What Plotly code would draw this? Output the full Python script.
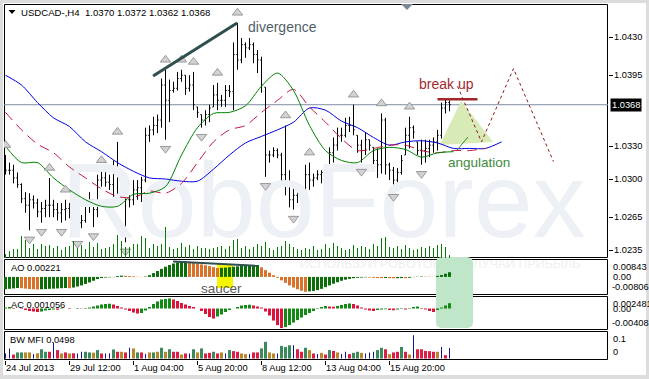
import plotly.graph_objects as go

# ---------------- data ----------------
highs = [1.0322,1.0315,1.0313,1.0306,1.0296,1.0288,1.0287,1.0285,1.0282,1.0279,
         1.0281,1.0301,1.0281,1.0278,1.0278,1.0281,1.0278,1.0274,1.0269,1.0267,
         1.0281,1.0288,1.0281,1.0304,1.0308,1.0308,1.0304,1.0317,1.0334,1.0305,
         1.0293,1.0285,1.0299,1.0299,1.0302,1.0347,1.0349,1.0357,1.0359,1.0392,
         1.0400,1.0391,1.0389,1.0398,1.0400,1.0395,1.0395,1.0398,1.0366,1.0359,
         1.0363,1.0368,1.0386,1.0388,1.0377,1.0386,1.0386,1.0425,1.0443,1.0429,
         1.0425,1.0429,1.0425,1.0418,1.0412,1.0384,1.0326,1.0329,1.0328,1.0324,
         1.0349,1.0308,1.0293,1.0293,1.0290,1.0313,1.0315,1.0305,1.0308,1.0308,
         1.0310,1.0329,1.0338,1.0347,1.0347,1.0356,1.0357,1.0368,1.0340,1.0336,
         1.0343,1.0336,1.0329,1.0328,1.0360,1.0356,1.0315,1.0311,1.0310,1.0322,
         1.0347,1.0357,1.0349,1.0334,1.0336,1.0336,1.0336,1.0338,1.0345,1.0370,
         1.0374,1.0372]
lows = [1.0304,1.0304,1.0296,1.0292,1.0278,1.0269,1.0253,1.0273,1.0265,1.0260,
        1.0265,1.0265,1.0265,1.0262,1.0260,1.0262,1.0264,1.0260,1.0249,1.0255,
        1.0260,1.0269,1.0256,1.0265,1.0293,1.0293,1.0290,1.0283,1.0283,1.0283,
        1.0242,1.0274,1.0276,1.0281,1.0279,1.0297,1.0334,1.0340,1.0342,1.0347,
        1.0336,1.0352,1.0379,1.0381,1.0389,1.0377,1.0380,1.0363,1.0356,1.0347,
        1.0349,1.0352,1.0366,1.0363,1.0366,1.0366,1.0375,1.0363,1.0400,1.0406,
        1.0411,1.0418,1.0406,1.0397,1.0379,1.0302,1.0315,1.0320,1.0319,1.0296,
        1.0285,1.0274,1.0272,1.0278,1.0278,1.0287,1.0290,1.0293,1.0299,1.0296,
        1.0302,1.0305,1.0315,1.0326,1.0334,1.0338,1.0343,1.0340,1.0324,1.0315,
        1.0322,1.0326,1.0308,1.0301,1.0305,1.0304,1.0299,1.0292,1.0296,1.0304,
        1.0322,1.0328,1.0337,1.0322,1.0313,1.0315,1.0320,1.0324,1.0326,1.0337,
        1.0360,1.0362]
closes = [1.0308,1.0308,1.0301,1.0295,1.0282,1.0276,1.0281,1.0278,1.0270,1.0273,
          1.0276,1.0276,1.0272,1.0269,1.0272,1.0273,1.0270,1.0264,1.0260,1.0262,
          1.0276,1.0281,1.0272,1.0299,1.0301,1.0297,1.0295,1.0310,1.0304,1.0290,
          1.0281,1.0281,1.0290,1.0292,1.0299,1.0340,1.0345,1.0349,1.0354,1.0386,
          1.0372,1.0381,1.0383,1.0392,1.0395,1.0383,1.0386,1.0368,1.0361,1.0354,
          1.0359,1.0365,1.0377,1.0372,1.0372,1.0381,1.0380,1.0414,1.0409,1.0423,
          1.0420,1.0423,1.0414,1.0409,1.0386,1.0322,1.0322,1.0326,1.0322,1.0304,
          1.0295,1.0281,1.0285,1.0290,1.0285,1.0304,1.0299,1.0301,1.0304,1.0306,
          1.0308,1.0324,1.0331,1.0340,1.0340,1.0349,1.0349,1.0345,1.0331,1.0326,
          1.0336,1.0331,1.0317,1.0313,1.0354,1.0313,1.0308,1.0299,1.0306,1.0317,
          1.0340,1.0347,1.0343,1.0326,1.0326,1.0328,1.0331,1.0334,1.0340,1.0365,
          1.0370,1.0368]
first_open = 1.0313
last_open = 1.0370

volumes = [400,700,900,900,2200,1800,1000,1400,900,1400,
           1200,1300,1000,1200,800,1100,1200,1700,1000,1300,
           900,1600,1100,1500,900,1000,1100,1400,2300,1700,
           1100,1100,1400,1400,2200,2000,1000,1400,1200,1400,
           3100,1100,900,1000,1500,1100,1300,900,1200,1000,
           1000,900,1000,1100,1200,900,1200,1800,1900,1000,
           1200,900,1100,1400,1200,1600,1000,800,1100,1200,
           1700,1400,1100,900,800,1000,900,1200,800,900,
           1400,1000,1500,1200,1000,800,900,1300,1000,1200,
           1100,900,1400,1200,2000,2100,1100,1000,1200,900,
           1300,1000,800,900,1100,1000,1200,1000,1300,1400,
           1100,300]

# Awesome Oscillator, in units of 0.0001
ao = [-58,-56,-54,-52,-53,-55,-57,-58,-59,-58,
      -57,-56,-55,-54,-53,-52,-53,-50,-45,-40,
      -33,-26,-18,-10,-5,-3,-2,-1,4,6,
      5,4,3,1,-1,2,8,18,28,38,
      48,56,63,68,71,73,70,67,63,59,
      55,51,46,42,43,44,46,48,50,52,
      53,54,55,56,45,32,20,8,-4,-16,
      -28,-40,-50,-58,-65,-70,-68,-66,-62,-56,
      -48,-40,-32,-25,-18,-13,-9,-6,-4,-3,
      -2,-3,-4,-5,-5.5,-5,-6,-6.5,-6,-5.5,
      -6,-4,-1,1,2,1.5,1,0.5,5,9,
      15,22.1]
# Accelerator Oscillator, in units of 0.0001
ac = [2,3,1,0,-1,-3,-5,-6,-7,-6,
      -4,-3,-2,-2.5,-1,0,-1,0,1,0.5,
      1,2,4,6,8,9,9.5,8,5,2,
      -2,-5,-8,-10,-9,-4,3,9,14,18,
      19,20,18,15,11,8,5,3,0,-5,
      -11,-17,-20,-16,-12,-7,-3,0,3,6,
      7,7.5,6,4,2,-6,-14,-24,-33,-39,
      -37,-33,-28,-23,-18,-13,-9,-5,-1,3,
      5,4,3.5,5,7,9,10,9,6,2,
      -2,-4,-5,-3,-2,-1.5,-3,-3.5,-2,-1,
      -2,1,3,4,1,-2,-5,-7,-3,2,
      6,10.56]
# Bill Williams Market Facilitation Index and its zone
mfi = [0.024,0.048,0.019,0.029,0.029,0.029,0.029,0.021,0.025,0.044,
       0.032,0.032,0.076,0.040,0.024,0.029,0.024,0.025,0.024,0.032,
       0.032,0.029,0.028,0.040,0.024,0.024,0.025,0.043,0.032,0.032,
       0.029,0.051,0.048,0.029,0.029,0.021,0.029,0.029,0.032,0.051,
       0.032,0.044,0.032,0.032,0.019,0.024,0.024,0.044,0.029,0.048,
       0.024,0.027,0.032,0.024,0.029,0.024,0.040,0.035,0.032,0.024,
       0.021,0.021,0.029,0.029,0.048,0.079,0.029,0.024,0.024,0.060,
       0.055,0.063,0.063,0.044,0.032,0.051,0.040,0.024,0.021,0.027,
       0.019,0.040,0.036,0.029,0.021,0.032,0.021,0.027,0.032,0.027,
       0.024,0.029,0.032,0.040,0.051,0.044,0.021,0.029,0.032,0.055,
       0.032,0.019,0.111,0.044,0.044,0.036,0.035,0.032,0.032,0.055,
       0.016,0.0498]
mfi_zone = ("uurggbbubg" "grurbrbruu" "ggbgruugrb" "rubgrubgbg" "bgrrbrugbg"
            "rrgrbugrrb" "burrggbbug" "ggurrgbrub" "rgrbuurggb" "uuuggrbrrg"
            "rburrrrrbu" "ru")

# Alligator lines (sampled every 4 bars)
jaw_idx = list(range(0, 125, 4))
jaw = [1.0395,1.0386,1.0370,1.0356,1.0348,1.0334,1.0325,1.0315,1.0307,1.0301,
       1.0300,1.0298,1.0298,1.0309,1.0322,1.0333,1.0339,1.0345,1.0352,1.0365,
       1.0363,1.0353,1.0347,1.0338,1.0331,1.0334,1.0335,1.0333,1.0328,1.0328,
       1.0328,1.0334]
teeth_idx = list(range(0, 121, 4))
teeth = [1.0361,1.0345,1.0332,1.0324,1.0311,1.0301,1.0291,1.0284,1.0283,1.0289,
         1.0287,1.0296,1.0315,1.0334,1.0345,1.0349,1.0361,1.0372,1.0382,1.0366,
         1.0352,1.0337,1.0326,1.0328,1.0331,1.0331,1.0326,1.0324,1.0326,1.0326,
         1.0328]
lips_idx = list(range(0, 113, 4))
lips = [1.0330,1.0315,1.0315,1.0301,1.0290,1.0281,1.0275,1.0275,1.0286,1.0287,
        1.0293,1.0322,1.0347,1.0360,1.0361,1.0367,1.0385,1.0397,1.0381,1.0349,
        1.0326,1.0317,1.0315,1.0326,1.0329,1.0327,1.0320,1.0324,1.0325]

fr_up_idx = [0, 11, 15, 24, 28, 40, 44, 47, 53, 58, 70, 76, 87, 94, 101]
fr_dn_idx = [6, 9, 14, 18, 22, 30, 40, 49, 65, 72, 89, 97, 104]

xtick_idx = [0, 16, 32, 48, 64, 80, 96]
xtick_text = ["24 Jul 2013", "29 Jul 12:00", "1 Aug 04:00", "5 Aug 20:00",
              "8 Aug 12:00", "13 Aug 04:00", "15 Aug 20:00"]
price_ticks = [1.0430, 1.0395, 1.0330, 1.0300, 1.0265, 1.0235]
ao_scale_labels = ["0.00843", "0.00", "-0.00806"]
ac_scale_labels = ["0.002481", "0.00", "-0.00408"]
mfi_scale_labels = ["0.1", "0"]
symbol = "USDCAD-,H4"

# ---------------- figure geometry ----------------
W, H = 649, 379
ML, MR, MT, MB = 4, 41, 4, 19
PW = W - ML - MR
PH = H - MT - MB
FONT = "Liberation Sans, Arial, sans-serif"
FS = 9.3   # terminal label size


def fx(px):
    return (px - ML) / PW


def fy(py):
    return (H - MB - py) / PH


def dom(top, bot):
    return [fy(bot), fy(top)]


n = len(closes)
idx = list(range(n))
assert len(highs) == n and len(lows) == n and len(volumes) == n
assert len(ao) == n and len(ac) == n and len(mfi) == n and len(mfi_zone) == n
assert len(jaw) == len(jaw_idx) and len(teeth) == len(teeth_idx) and len(lips) == len(lips_idx)

opens = [first_open] + closes[:-1]
opens[-1] = last_open
opens = [min(max(o, l), h) for o, h, l in zip(opens, highs, lows)]

PX_PRICE = 1 / 10923.0   # price per screen pixel in the main panel

fig = go.Figure()

# watermark
fig.add_trace(go.Scatter(x=[79.5], y=[1.0271], mode="text", text=["RoboForex"],
                         textfont=dict(size=106, color="#edf1f6", family=FONT),
                         hoverinfo="skip", xaxis="x", yaxis="y"))

# alligator
fig.add_trace(go.Scatter(x=jaw_idx, y=jaw, mode="lines",
                         line=dict(color="#0000e0", width=1, shape="spline", smoothing=0.8),
                         xaxis="x", yaxis="y", hoverinfo="skip"))
fig.add_trace(go.Scatter(x=teeth_idx, y=teeth, mode="lines",
                         line=dict(color="#c4143c", width=1, shape="spline", smoothing=0.8,
                                   dash="10px,6px"),
                         xaxis="x", yaxis="y", hoverinfo="skip"))
fig.add_trace(go.Scatter(x=lips_idx, y=lips, mode="lines",
                         line=dict(color="#008000", width=1, shape="spline", smoothing=0.8),
                         xaxis="x", yaxis="y", hoverinfo="skip"))

# price bars
fig.add_trace(go.Ohlc(x=idx, open=opens, high=highs, low=lows, close=closes,
                      increasing=dict(line=dict(color="black", width=1)),
                      decreasing=dict(line=dict(color="black", width=1)),
                      tickwidth=0.3, xaxis="x", yaxis="y", hoverinfo="skip"))

# fractals
fig.add_trace(go.Scatter(x=fr_up_idx, y=[highs[i] + 10 * PX_PRICE for i in fr_up_idx],
                         mode="markers",
                         marker=dict(symbol="triangle-up", size=9, color="#d2d2d2",
                                     line=dict(color="#999999", width=1)),
                         xaxis="x", yaxis="y", hoverinfo="skip"))
fig.add_trace(go.Scatter(x=fr_dn_idx, y=[lows[i] - 9 * PX_PRICE for i in fr_dn_idx],
                         mode="markers",
                         marker=dict(symbol="triangle-down", size=9, color="#d2d2d2",
                                     line=dict(color="#999999", width=1)),
                         xaxis="x", yaxis="y", hoverinfo="skip"))

# volumes (overlay axis on the main panel)
fig.add_trace(go.Bar(x=idx, y=volumes, width=0.25, marker=dict(color="#0a7a0a", line_width=0),
                     xaxis="x", yaxis="y5", hoverinfo="skip"))

# AO
ao_v = [v * 1e-4 for v in ao]
ao_col = ["#0b6e0b" if (i == 0 or ao[i] > ao[i - 1]) else "#d9732c" for i in idx]
fig.add_trace(go.Bar(x=idx, y=ao_v, width=0.75, marker=dict(color=ao_col, line_width=0),
                     xaxis="x", yaxis="y2", hoverinfo="skip"))

# AC
ac_v = [v * 1e-4 for v in ac]
ac_col = ["#138a13" if (i == 0 or ac[i] > ac[i - 1]) else "#dc143c" for i in idx]
fig.add_trace(go.Bar(x=idx, y=ac_v, width=0.75, marker=dict(color=ac_col, line_width=0),
                     xaxis="x", yaxis="y3", hoverinfo="skip"))

# BW MFI
zone_col = {"g": "#3a8a5c", "b": "#b8862b", "r": "#dc1e46", "u": "#14148c"}
thick = [i for i in idx if mfi_zone[i] != "u"]
thin = [i for i in idx if mfi_zone[i] == "u"]
fig.add_trace(go.Bar(x=thick, y=[mfi[i] for i in thick], width=0.75,
                     marker=dict(color=[zone_col[mfi_zone[i]] for i in thick], line_width=0),
                     xaxis="x", yaxis="y4", hoverinfo="skip"))
fig.add_trace(go.Bar(x=thin, y=[mfi[i] for i in thin], width=0.25,
                     marker=dict(color=zone_col["u"], line_width=0),
                     xaxis="x", yaxis="y4", hoverinfo="skip"))

# ---------------- axes ----------------
y_top = 1.0430 + (37 - 4) * PX_PRICE
y_bot = 1.0430 - (258 - 37) * PX_PRICE
noax = dict(showticklabels=False, ticks="", showgrid=False, zeroline=False,
            showline=False, automargin=False, fixedrange=True)
fig.update_layout(
    width=W, height=H, margin=dict(l=ML, r=MR, t=MT, b=MB, autoexpand=False),
    paper_bgcolor="#dcdcdc", plot_bgcolor="rgba(0,0,0,0)",
    showlegend=False, barmode="overlay",
    font=dict(family=FONT, size=FS, color="black"),
    xaxis=dict(range=[-0.375, 150.625], anchor="y4", tickmode="array",
               tickvals=xtick_idx, ticks="outside", ticklen=4, tickcolor="black",
               showticklabels=False, showgrid=False, zeroline=False, showline=False,
               automargin=False, rangeslider=dict(visible=False), fixedrange=True),
    yaxis=dict(domain=dom(4, 258), range=[y_bot, y_top], side="right", anchor="x",
               tickmode="array", tickvals=price_ticks, ticks="outside", ticklen=4,
               tickcolor="black", showticklabels=False, showgrid=False, zeroline=False,
               showline=False, automargin=False, fixedrange=True),
    yaxis5=dict(overlaying="y", range=[0, 25400], visible=False, fixedrange=True),
    yaxis2=dict(domain=dom(259, 295), range=[-0.00850, 0.00843], anchor="x", **noax),
    yaxis3=dict(domain=dom(296, 330), range=[-0.00428, 0.00249], anchor="x", **noax),
    yaxis4=dict(domain=dom(331, 360), range=[-0.007, 0.1306], anchor="x", **noax),
)

# ---------------- shapes ----------------
shapes = []


def P(a, b):
    return f"{fx(a):.5f},{fy(b):.5f}"


# white window body
shapes.append(dict(type="rect", xref="paper", yref="paper", x0=fx(3), x1=fx(646),
                   y0=fy(375), y1=fy(3), line_width=0, fillcolor="white", layer="below"))
# faint slogan in the AO panel (drawn under the highlight)
shapes.append(dict(type="rect", xref="paper", yref="paper", x0=fx(298), x1=fx(582),
                   y0=fy(268), y1=fy(258), line_width=0, fillcolor="rgba(0,0,0,0)",
                   layer="below",
                   label=dict(text="ИСПОЛЬЗУЙ РОБОТОВ – ПОЛУЧАЙ ПРИБЫЛЬ",
                              textposition="middle center",
                              font=dict(size=12.5, color="#efefef", family=FONT))))
# panel frames
for t, b in [(4.5, 257.5), (259.5, 294.5), (296.5, 329.5), (331.5, 359.5)]:
    shapes.append(dict(type="rect", xref="paper", yref="paper", x0=fx(4.5), x1=fx(607.5),
                       y0=fy(b), y1=fy(t), line=dict(color="black", width=1),
                       fillcolor="rgba(0,0,0,0)", layer="below"))
# light green rounded highlight over AO/AC
gx0, gx1, gy0, gy1, r = 436, 473, 257, 328, 6
path = (f"M{P(gx0 + r, gy0)} L{P(gx1 - r, gy0)} Q{P(gx1, gy0)} {P(gx1, gy0 + r)} "
        f"L{P(gx1, gy1 - r)} Q{P(gx1, gy1)} {P(gx1 - r, gy1)} L{P(gx0 + r, gy1)} "
        f"Q{P(gx0, gy1)} {P(gx0, gy1 - r)} L{P(gx0, gy0 + r)} Q{P(gx0, gy0)} {P(gx0 + r, gy0)} Z")
shapes.append(dict(type="path", xref="paper", yref="paper", path=path,
                   fillcolor="#bfe6c9", line_width=0, layer="below"))
# yellow "saucer" highlight
shapes.append(dict(type="rect", xref="x", yref="y2", x0=52.9, x1=56.9, y0=-0.0052, y1=0.0061,
                   fillcolor="#f5f500", line_width=0, layer="below"))
# bid line
shapes.append(dict(type="line", xref="x domain", yref="y", x0=0, x1=1, y0=closes[-1], y1=closes[-1],
                   line=dict(color="#7b8ea0", width=1), layer="below"))
# angulation triangle
shapes.append(dict(type="path", xref="x", yref="y",
                   path="M108.6,1.03311 L113.9,1.03714 L121.9,1.03339 Z",
                   fillcolor="#d8eab6", line_width=0, layer="below"))
# divergence line on price
shapes.append(dict(type="line", xref="x", yref="y", x0=36.9, y0=1.03943, x1=57.9, y1=1.04428,
                   line=dict(color="#2f4f4f", width=3)))
# divergence line on AO
shapes.append(dict(type="line", xref="x", yref="y2", x0=41.9, y0=0.0073, x1=62.9, y1=0.0052,
                   line=dict(color="#2f4f4f", width=2)))
# break up level
shapes.append(dict(type="line", xref="x", yref="y", x0=108, y0=1.0373, x1=118, y1=1.0373,
                   line=dict(color="#a0262a", width=2.5)))
# angulation stroke
shapes.append(dict(type="line", xref="x", yref="y", x0=112.9, y0=1.03265, x1=115.6, y1=1.03384,
                   line=dict(color="#2e8b2e", width=1)))
# forecast path
shapes.append(dict(type="path", xref="x", yref="y",
                   path="M113,1.0385 L119,1.0334 L127,1.0401 L137,1.0316",
                   line=dict(color="#8b1a1a", width=1, dash="dot")))
# chart shift marker and header triangle
shapes.append(dict(type="path", xref="paper", yref="paper",
                   path=f"M{P(401, 4)} L{P(413, 4)} L{P(407, 10)} Z",
                   fillcolor="#7d8a96", line_width=0))
shapes.append(dict(type="path", xref="paper", yref="paper",
                   path=f"M{P(8.5, 10)} L{P(15.5, 10)} L{P(12, 14)} Z",
                   fillcolor="black", line_width=0))
fig.update_layout(shapes=shapes)

# ---------------- texts ----------------
anns = []


def T(text, x, y, size=FS, color="black", xanchor="left", yanchor="middle", **kw):
    d = dict(text=text, x=fx(x), y=fy(y), xref="paper", yref="paper", showarrow=False,
             xanchor=xanchor, yanchor=yanchor, font=dict(size=size, color=color, family=FONT))
    d.update(kw)
    anns.append(d)


T(f"{symbol}\u00a0\u00a0{opens[-1]:.4f} {highs[-1]:.4f} {lows[-1]:.4f} {closes[-1]:.4f}", 19, 12,
  size=9.6)
T("divergence", 246, 27, size=14, color="#4f5f68")
T("break up", 417, 84, size=14, color="#a32a2e")
T("angulation", 446, 162, size=13.5, color="#3d8b3d")
T("saucer", 199, 288, size=13.5, color="#5a5a5a")
T(f"AO {ao_v[-1]:.5f}", 9, 268)
T(f"AC {ac_v[-1]:.6f}", 9, 305)
T(f"BW MFI {mfi[-1]:.4f}", 8, 340)

# time axis labels (left-aligned at their ticks, as in the terminal)
for i, t in zip(xtick_idx, xtick_text):
    anns.append(dict(text=t, x=i, xref="x", y=fy(368), yref="paper", showarrow=False,
                     xanchor="left", yanchor="middle", xshift=-2,
                     font=dict(size=FS, family=FONT, color="black")))

# price scale labels
for v in price_ticks:
    anns.append(dict(text=f"{v:.4f}", x=fx(612), xref="paper", y=v, yref="y", showarrow=False,
                     xanchor="left", yanchor="middle",
                     font=dict(size=FS, family=FONT, color="black")))

# right-hand scale labels of the indicator panels
T(ao_scale_labels[0], 611, 260, yanchor="top")
anns.append(dict(text=ao_scale_labels[1], x=fx(611), y=0, xref="paper", yref="y2", showarrow=False,
                 xanchor="left", yanchor="middle", font=dict(size=FS, family=FONT, color="black")))
T(ao_scale_labels[2], 610, 294, yanchor="bottom")
T(ac_scale_labels[0], 611, 296.5, yanchor="top")
anns.append(dict(text=ac_scale_labels[1], x=fx(611), y=0, xref="paper", yref="y3", showarrow=False,
                 xanchor="left", yanchor="middle", font=dict(size=FS, family=FONT, color="black")))
T(ac_scale_labels[2], 610, 329.5, yanchor="bottom")
T(mfi_scale_labels[0], 611, 332, yanchor="top")
T(mfi_scale_labels[1], 611, 359, yanchor="bottom")

# current price box
anns.append(dict(text=f"{closes[-1]:.4f}", x=fx(610), y=closes[-1], xref="paper", yref="y",
                 showarrow=False, xanchor="left", yanchor="middle", bgcolor="black",
                 borderpad=1, font=dict(size=FS, family=FONT, color="white")))
fig.update_layout(annotations=anns)

fig.write_html("out.html",
               config={"displayModeBar": False, "staticPlot": True},
               post_script="document.body.style.margin='0';document.body.style.padding='0';"
                           "document.documentElement.style.overflow='hidden';")
